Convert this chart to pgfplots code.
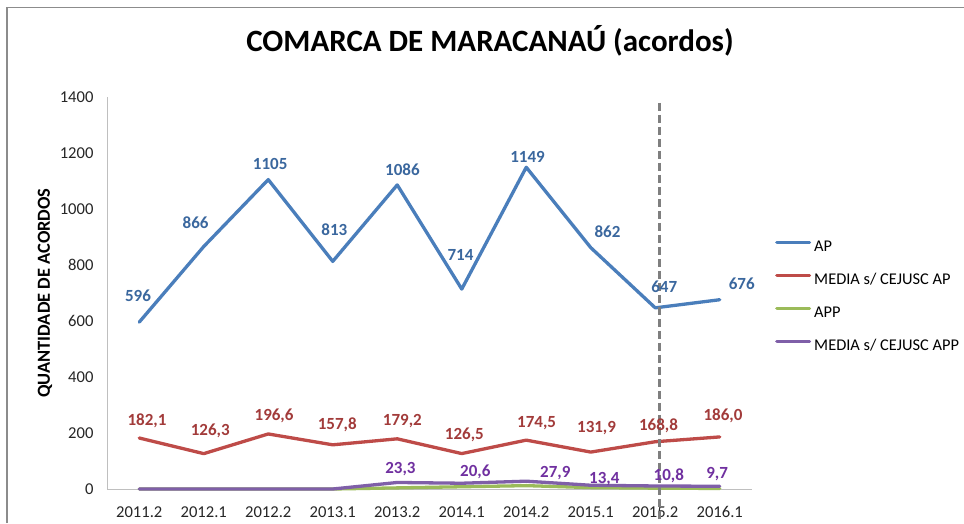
\documentclass[border=0pt]{standalone}
\usepackage{fontspec}
\setmainfont{Carlito}
\usepackage{pgfplots}
\pgfplotsset{compat=1.18}
\definecolor{apline}{HTML}{4A7EBB}
\definecolor{aplabel}{HTML}{3A679E}
\definecolor{redline}{HTML}{BE4B48}
\definecolor{redlabel}{HTML}{A23B3A}
\definecolor{greenline}{HTML}{9BBB59}
\definecolor{purpline}{HTML}{7F5FA8}
\definecolor{purplabel}{HTML}{7030A0}
\definecolor{axisgray}{HTML}{BFBFBF}
\definecolor{framegray}{HTML}{8C8C8C}
\definecolor{dashgray}{HTML}{7F7F7F}
\tikzset{lbl/.style={font=\bfseries\fontsize{17}{20}\selectfont, inner sep=0pt, text depth=0pt, anchor=center}}
\begin{document}
\begin{tikzpicture}[x=1pt,y=1pt]
\clip (0pt,0pt) rectangle (964pt,523pt);
\fill[white] (0pt,0pt) rectangle (964pt,523pt);
\draw[color=framegray, line width=1.3pt] (7pt,0pt) -- (7pt,515.5pt) -- (964pt,515.5pt);
\node[anchor=base, inner sep=0pt, font=\bfseries\fontsize{31}{36}\selectfont] at (490pt,471pt) {COMARCA DE MARACANAÚ (acordos)};
\node[rotate=90, inner sep=0pt, font=\bfseries\fontsize{18.4}{21}\selectfont] at (45pt,230pt) {QUANTIDADE DE ACORDOS};
\begin{axis}[
  at={(107pt,34pt)}, anchor=south west,
  scale only axis, width=645pt, height=392pt,
  xmin=-0.5, xmax=9.5, ymin=0, ymax=1400,
  xtick={0,...,9},
  xticklabels={2011.2,2012.1,2012.2,2013.1,2013.2,2014.1,2014.2,2015.1,2015.2,2016.1},
  ytick={0,200,...,1400},
  axis x line*=bottom, axis y line*=left,
  axis line style={color=axisgray, line width=0.9pt, -},
  major tick length=0pt,
  tick label style={font=\fontsize{16.6}{19}\selectfont, color=black!85},
  yticklabel style={xshift=-10pt},
  xticklabel style={yshift=-14pt},
  /pgf/number format/assume math mode=true,
  /pgf/number format/1000 sep={},
  clip=false,
  legend cell align=left,
  legend style={draw=none, fill=none, at={(rel axis cs:1.0357,0.491)}, anchor=west,
    font=\fontsize{16.4}{19}\selectfont, inner sep=0pt, row sep=19pt,
    nodes={inner sep=0pt, text height=11pt, text depth=3pt},
    /tikz/column sep=3pt},
  legend image code/.code={\draw[#1, line width=3pt] (0pt,4.5pt) -- (33pt,4.5pt);},
  every axis plot/.append style={line width=3.3pt, line join=round, line cap=round},
]
\addplot[color=apline] coordinates {(0,596) (1,866) (2,1105) (3,813) (4,1086) (5,714) (6,1149) (7,862) (8,647) (9,676)};
\addlegendentry{AP}
\addplot[color=redline] coordinates {(0,182.1) (1,126.3) (2,196.6) (3,157.8) (4,179.2) (5,126.5) (6,174.5) (7,131.9) (8,168.8) (9,186.0)};
\addlegendentry{MEDIA s/ CEJUSC AP}
\addplot[color=greenline] coordinates {(0,0) (1,0) (2,0) (3,0) (4,4) (5,8) (6,12) (7,5) (8,3) (9,2)};
\addlegendentry{APP}
\addplot[color=purpline] coordinates {(0,0) (1,0) (2,0) (3,0) (4,23.3) (5,20.6) (6,27.9) (7,13.4) (8,10.8) (9,9.7)};
\addlegendentry{MEDIA s/ CEJUSC APP}
\draw[color=dashgray, line width=3pt, dash pattern=on 8pt off 4pt] (axis cs:8.07,1379) -- (axis cs:8.07,-120);
% AP labels
\node[lbl, color=aplabel] at (axis cs:-0.02,691) {596};
\node[lbl, color=aplabel] at (axis cs:0.874,950) {866};
\node[lbl, color=aplabel] at (axis cs:2.03,1161) {1105};
\node[lbl, color=aplabel] at (axis cs:3.025,925) {813};
\node[lbl, color=aplabel] at (axis cs:4.08,1139) {1086};
\node[lbl, color=aplabel] at (axis cs:4.98,836) {714};
\node[lbl, color=aplabel] at (axis cs:6.02,1186) {1149};
\node[lbl, color=aplabel] at (axis cs:7.26,918) {862};
\node[lbl, color=aplabel] at (axis cs:8.14,721) {647};
\node[lbl, color=aplabel] at (axis cs:9.34,732) {676};
% MEDIA AP labels
\node[lbl, color=redlabel] at (axis cs:0.12,246) {182,1};
\node[lbl, color=redlabel] at (axis cs:1.10,211) {126,3};
\node[lbl, color=redlabel] at (axis cs:2.09,264) {196,6};
\node[lbl, color=redlabel] at (axis cs:3.07,232) {157,8};
\node[lbl, color=redlabel] at (axis cs:4.08,246) {179,2};
\node[lbl, color=redlabel] at (axis cs:5.04,196) {126,5};
\node[lbl, color=redlabel] at (axis cs:6.16,239) {174,5};
\node[lbl, color=redlabel] at (axis cs:7.09,221) {131,9};
\node[lbl, color=redlabel] at (axis cs:8.05,229) {168,8};
\node[lbl, color=redlabel] at (axis cs:9.05,264) {186,0};
% MEDIA APP labels
\node[lbl, color=purplabel] at (axis cs:4.05,75) {23,3};
\node[lbl, color=purplabel] at (axis cs:5.21,64) {20,6};
\node[lbl, color=purplabel] at (axis cs:6.45,61) {27,9};
\node[lbl, color=purplabel] at (axis cs:7.21,39) {13,4};
\node[lbl, color=purplabel] at (axis cs:8.21,50) {10,8};
\node[lbl, color=purplabel] at (axis cs:8.96,57) {9,7};
\end{axis}
\end{tikzpicture}
\end{document}
